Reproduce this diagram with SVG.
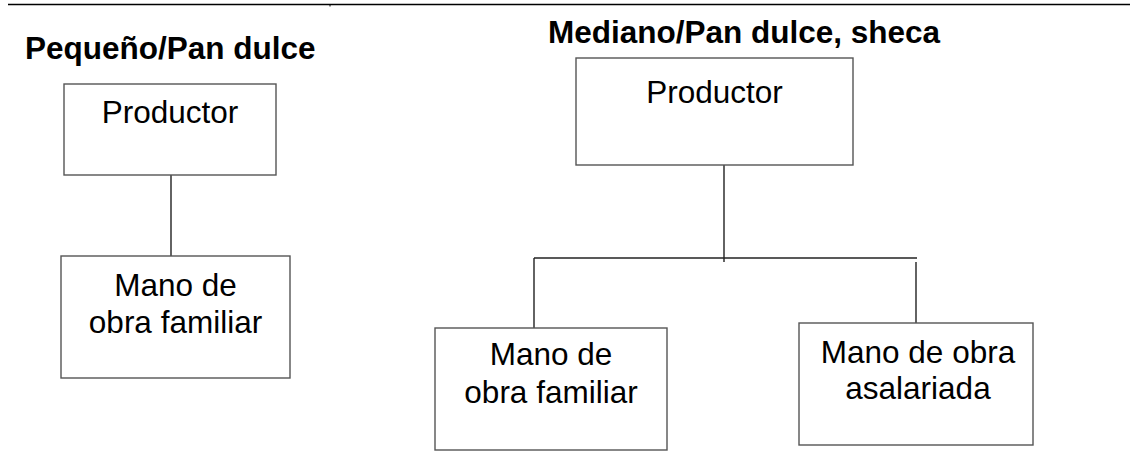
<svg xmlns="http://www.w3.org/2000/svg" width="1130" height="460" viewBox="0 0 1130 460">
<style>
.box{fill:#fff;stroke:#555;stroke-width:1.4}
.t{font-family:"Liberation Sans",Arial,sans-serif;font-size:31.5px;fill:#000;text-anchor:middle}
.h{font-family:"Liberation Sans",Arial,sans-serif;font-size:31.5px;font-weight:bold;fill:#000}
.c{stroke:#222;stroke-width:1.4;fill:none}
</style>
<rect width="1130" height="460" fill="#fff"/>
<line x1="8" y1="4.5" x2="1130" y2="4.5" stroke="#000" stroke-width="1.4"/>
<line x1="330" y1="4.5" x2="330" y2="6.5" stroke="#000" stroke-width="1"/>
<text class="h" x="25" y="59">Pequeño/Pan dulce</text>
<text class="h" x="548" y="43">Mediano/Pan dulce, sheca</text>
<g id="connectors">
<line class="c" x1="171" y1="175" x2="171" y2="256"/>
<line class="c" x1="724" y1="162" x2="724" y2="262"/>
<line class="c" x1="534" y1="258" x2="917" y2="258"/>
<line class="c" x1="534" y1="258" x2="534" y2="328"/>
<line class="c" x1="916" y1="262" x2="916" y2="323"/>
</g>
<g id="n1">
<rect class="box" x="64" y="84" width="212" height="91"/>
<text class="t" x="170" y="123">Productor</text>
</g>
<g id="n2">
<rect class="box" x="61" y="256" width="229" height="122"/>
<text class="t" x="175.5" y="296">Mano de</text>
<text class="t" x="175.5" y="333">obra familiar</text>
</g>
<g id="n3">
<rect class="box" x="576" y="58" width="277" height="107"/>
<text class="t" x="714.5" y="103">Productor</text>
</g>
<g id="n4">
<rect class="box" x="435" y="328" width="232" height="122"/>
<text class="t" x="551" y="365">Mano de</text>
<text class="t" x="551" y="403">obra familiar</text>
</g>
<g id="n5">
<rect class="box" x="799" y="323" width="234" height="122"/>
<text class="t" x="918" y="363">Mano de obra</text>
<text class="t" x="918" y="399">asalariada</text>
</g>
</svg>
